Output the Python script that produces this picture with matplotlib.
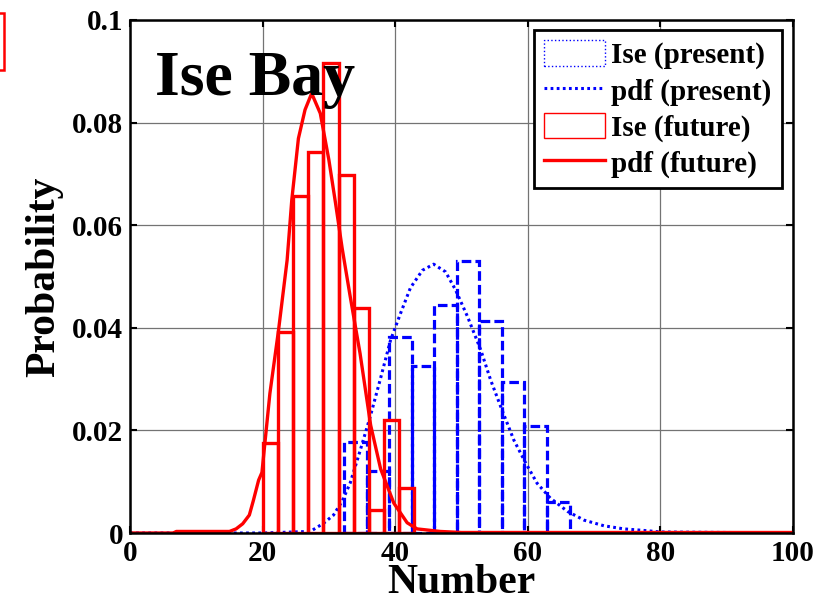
import matplotlib
matplotlib.use("Agg")
import matplotlib.pyplot as plt
from matplotlib.patches import Patch, Rectangle
from matplotlib.lines import Line2D

plt.rcParams['font.family'] = ['Liberation Serif', 'DejaVu Serif']
plt.rcParams['font.weight'] = 'bold'

# Histogram of the present climate (blue) : bin edges start / width, densities
present_start = 32.3
present_width = 3.4
present_density = [0.0178, 0.0121, 0.0383, 0.0326, 0.0444,
                   0.0531, 0.0413, 0.0295, 0.0209, 0.0061]

# Histogram of the future climate (red)
future_start = 20.0
future_width = 2.29
future_density = [0.0175, 0.0392, 0.0656, 0.0742, 0.0917,
                  0.0697, 0.0438, 0.0045, 0.0220, 0.0087]

# Fitted probability density curves
present_pdf_x = [0, 20, 27.2, 29.2, 30.7, 32.0, 33.2, 34.7, 36.3, 37.8, 39.3,
                 40.8, 42.3, 44.1, 45.8, 47.6, 49.1, 50.9, 52.9, 54.4, 56.1,
                 57.9, 59.7, 61.4, 63.4, 66.0, 68.5, 71.5, 74.5, 77.5, 80, 100]
present_pdf_y = [0, 0, 0.0003, 0.0019, 0.0035, 0.0062, 0.0097, 0.0160, 0.0230,
                 0.0302, 0.0376, 0.0428, 0.0478, 0.0512, 0.0524, 0.0509, 0.0474,
                 0.0422, 0.0357, 0.0298, 0.0240, 0.0181, 0.0136, 0.0097, 0.0068,
                 0.0042, 0.0025, 0.0014, 0.0008, 0.0005, 0.0002, 0]

future_pdf_x = [0, 6.5, 7, 15, 16, 17, 18, 18.6, 19.4, 19.9, 21.1, 22.4, 23.7,
                24.4, 25.4, 26.4, 27.4, 28.7, 30.0, 31.0, 32.0, 33.2, 34.7,
                36.3, 37.8, 39.8, 41.8, 43.3, 46.8, 50, 100]
future_pdf_y = [0, 0, 0.0003, 0.0003, 0.0008, 0.0018, 0.0035, 0.0063, 0.0103,
                0.0118, 0.0272, 0.0395, 0.0532, 0.0649, 0.0769, 0.0825, 0.0857,
                0.0818, 0.0727, 0.0643, 0.0555, 0.0462, 0.0350, 0.0210, 0.0125,
                0.0058, 0.0020, 0.0008, 0.0003, 0.0001, 0.0001]

x_ticks = [0, 20, 40, 60, 80, 100]
y_ticks = [0, 0.02, 0.04, 0.06, 0.08, 0.1]
y_tick_labels = ['0', '0.02', '0.04', '0.06', '0.08', '0.1']

fig = plt.figure(figsize=(8.27, 6.12), dpi=100)
ax = fig.add_axes([130 / 827, 1 - 533 / 612, 663 / 827, 513 / 612])

blue = '#0000ff'
red = '#ff0000'

present_left = [present_start + i * present_width for i in range(len(present_density))]
future_left = [future_start + i * future_width for i in range(len(future_density))]

ax.bar(present_left, present_density, width=present_width, align='edge',
       fill=False, edgecolor=blue, linewidth=2.3, linestyle=(0, (3.0, 1.3)),
       zorder=3)
ax.plot(present_pdf_x, present_pdf_y, color=blue, linewidth=2.2,
        linestyle=(0, (0.9, 1.1)), zorder=4)
ax.bar(future_left, future_density, width=future_width, align='edge',
       fill=False, edgecolor=red, linewidth=2.4, zorder=5)
ax.plot(future_pdf_x, future_pdf_y, color=red, linewidth=2.4, zorder=6)

ax.set_xlim(0, 100)
ax.set_ylim(0, 0.1)
ax.set_xticks(x_ticks)
ax.set_yticks(y_ticks)
ax.set_yticklabels(y_tick_labels)
ax.grid(True, color='0.45', linewidth=0.9, zorder=0)
ax.set_axisbelow(True)
ax.tick_params(direction='in', top=True, right=True, length=5, width=1.5,
               labelsize=21, pad=5)
for lab in ax.get_xticklabels() + ax.get_yticklabels():
    lab.set_fontweight('bold')
for sp in ax.spines.values():
    sp.set_linewidth(1.8)
    sp.set_zorder(7)

ax.set_xlabel('Number', fontsize=30, fontweight='bold', labelpad=-2)
ax.set_ylabel('Probability', fontsize=30, fontweight='bold', labelpad=6)

ax.text(0.038, 0.854, 'Ise Bay', transform=ax.transAxes, fontsize=46,
        fontweight='bold', va='baseline', ha='left', zorder=8)

handles = [
    Patch(facecolor='white', edgecolor=blue, linestyle=':', linewidth=1.0),
    Line2D([], [], color=blue, linewidth=2.2, linestyle=(0, (0.9, 1.1))),
    Patch(facecolor='white', edgecolor=red, linewidth=1.0),
    Line2D([], [], color=red, linewidth=2.4),
]
labels = ['Ise (present)', 'pdf (present)', 'Ise (future)', 'pdf (future)']
leg = ax.legend(handles, labels, loc='upper right', bbox_to_anchor=(0.983, 0.98),
                borderaxespad=0, prop={'weight': 'bold', 'size': 21},
                handlelength=2.1, handleheight=0.95, handletextpad=0.2,
                labelspacing=0.25, borderpad=0.35, fancybox=False,
                framealpha=1, edgecolor='black')
leg.get_frame().set_linewidth(2.0)
leg.set_zorder(10)

# edge of a neighbouring panel's legend swatch
fig.patches.append(Rectangle((-0.03, 1 - 70 / 612), 0.03 + 4 / 827, 57 / 612,
                             transform=fig.transFigure, fill=False,
                             edgecolor=red, linewidth=1.8))

fig.savefig('out.png', dpi=100)
